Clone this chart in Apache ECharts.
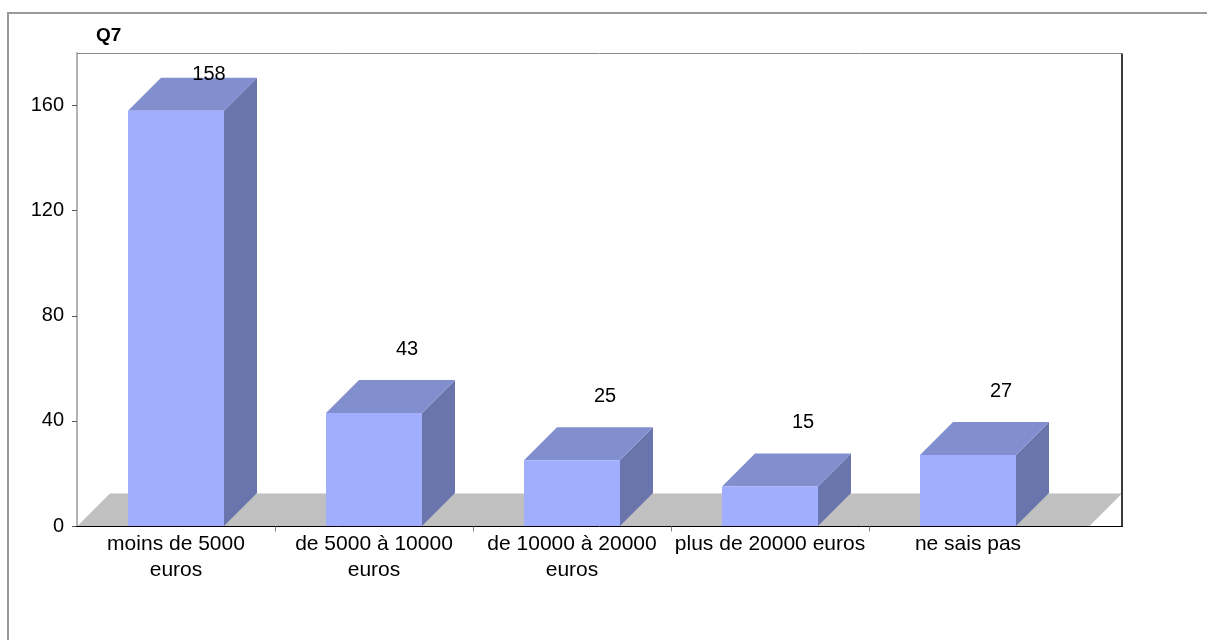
<!DOCTYPE html>
<html>
<head>
<meta charset="utf-8">
<script src="https://cdn.jsdelivr.net/npm/echarts@6/dist/echarts.min.js"></script>
<style>html,body{margin:0;padding:0;background:#fff}#chart{width:1207px;height:640px}</style>
</head>
<body>
<div id="chart"></div>
<script>
const title = 'Q7';
const categories = ['moins de 5000\neuros', 'de 5000 à 10000\neuros', 'de 10000 à 20000\neuros', 'plus de 20000 euros', 'ne sais pas'];
const values = [158, 43, 25, 15, 27];
const yTicks = [0, 40, 80, 120, 160];
const yMax = 180;

const FONT = '"Liberation Sans", Arial, sans-serif';
const DEPTH = 33;
const BAR_HALF = 48;
const PLOT_EXTRA = 55;
const FRONT = '#a1aeff';
const TOP = '#828fce';
const SIDE = '#6a75ad';
const FLOOR = '#c0c0c0';

const chart = echarts.init(document.getElementById('chart'), null, {renderer: 'canvas'});

function frameItem(params, api) {
  const cs = params.coordSys;
  const left = cs.x;
  const top = Math.round(cs.y) + 0.5;
  const right = cs.x + cs.width + PLOT_EXTRA;
  const y0 = Math.round(api.coord([0, 0])[1]) + 0.5;
  const children = [];
  children.push({type: 'polygon', shape: {points: [[left, y0], [right - DEPTH, y0], [right, y0 - DEPTH], [left + DEPTH, y0 - DEPTH]]}, style: {fill: FLOOR}});
  children.push({type: 'line', shape: {x1: left, y1: top, x2: right, y2: top}, style: {stroke: '#8c8c8c', lineWidth: 1}});
  children.push({type: 'line', shape: {x1: right, y1: top, x2: right, y2: y0}, style: {stroke: '#3c3c3c', lineWidth: 2}});
  children.push({type: 'line', shape: {x1: left - 1, y1: y0, x2: right + 1, y2: y0}, style: {stroke: '#000', lineWidth: 1}});
  for (let i = 1; i < categories.length; i++) {
    const x = Math.round((api.coord([i - 1, 0])[0] + api.coord([i, 0])[0]) / 2) + 0.5;
    children.push({type: 'line', shape: {x1: x, y1: y0, x2: x, y2: y0 + 5}, style: {stroke: '#808080', lineWidth: 1}});
  }
  return {type: 'group', children: children};
}

function barItem(params, api) {
  const i = api.value(0);
  const v = api.value(1);
  const p = api.coord([i, v]);
  const cx = p[0], yv = p[1];
  const y0 = api.coord([i, 0])[1];
  const top = params.coordSys.y;
  const x1 = cx - BAR_HALF, x2 = cx + BAR_HALF;
  const ly = Math.max(yv - DEPTH - 31, top + 21);
  return {
    type: 'group',
    children: [
      {type: 'polygon', shape: {points: [[x2, yv], [x2 + DEPTH, yv - DEPTH], [x2 + DEPTH, y0 - DEPTH], [x2, y0]]}, style: {fill: SIDE}},
      {type: 'polygon', shape: {points: [[x1, yv], [x2, yv], [x2 + DEPTH, yv - DEPTH], [x1 + DEPTH, yv - DEPTH]]}, style: {fill: TOP}},
      {type: 'rect', shape: {x: x1, y: yv, width: 2 * BAR_HALF, height: y0 - yv}, style: {fill: FRONT}},
      {type: 'text', x: cx + DEPTH, y: ly, style: {text: String(v), font: '20px ' + FONT, fill: '#000', align: 'center', verticalAlign: 'middle', textAlign: 'center', textVerticalAlign: 'middle'}}
    ]
  };
}

const option = {
  animation: false,
  backgroundColor: '#ffffff',
  graphic: [
    {type: 'rect', z: -10, shape: {x: 8, y: 13, width: 1260, height: 700}, style: {fill: 'none', stroke: '#9a9a9a', lineWidth: 2}},
    {type: 'text', x: 96, y: 36, style: {text: title, font: 'bold 19px ' + FONT, fill: '#000', textVerticalAlign: 'middle', verticalAlign: 'middle'}}
  ],
  grid: {left: 77, right: 140, top: 53, bottom: 114, containLabel: false},
  xAxis: {
    type: 'category',
    data: categories,
    axisLine: {show: false},
    axisTick: {show: false},
    splitLine: {show: false},
    axisLabel: {interval: 0, fontSize: 21, fontFamily: FONT, color: '#000', lineHeight: 26, margin: 5}
  },
  yAxis: {
    type: 'value',
    min: 0,
    max: yMax,
    axisLine: {show: true, lineStyle: {color: '#b4b4b4', width: 2}},
    axisTick: {show: true, customValues: yTicks, length: 5, lineStyle: {color: '#555'}},
    axisLabel: {customValues: yTicks, fontSize: 20, fontFamily: FONT, color: '#000', margin: 13},
    splitLine: {show: false}
  },
  series: [
    {type: 'custom', z: 1, renderItem: frameItem, data: [[0, 0]], encode: {x: 0, y: 1}, silent: true},
    {type: 'custom', z: 2, renderItem: barItem, data: values.map((v, i) => [i, v]), encode: {x: 0, y: 1}}
  ]
};
chart.setOption(option);
</script>
</body>
</html>
